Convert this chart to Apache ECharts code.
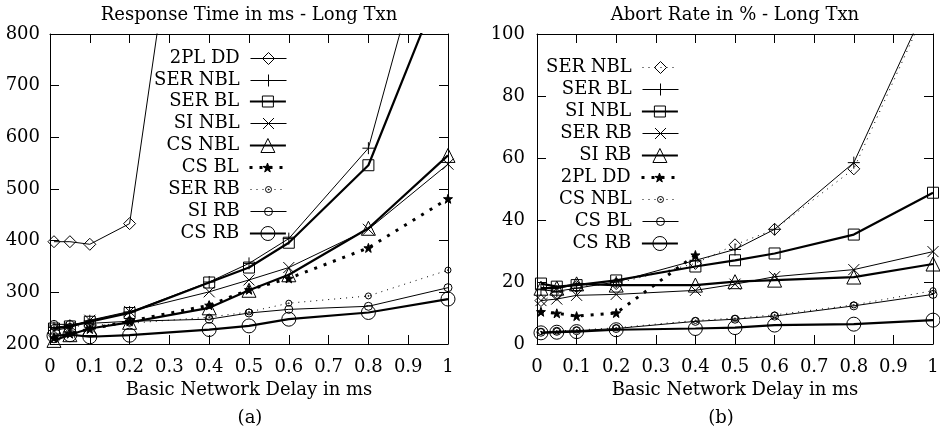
<!DOCTYPE html>
<html><head><meta charset="utf-8">
<script src="https://cdn.jsdelivr.net/npm/echarts@6/dist/echarts.min.js"></script>
<style>html,body{margin:0;padding:0;background:#fff}#c{width:940px;height:436px}</style>
</head><body><div id="c"></div>
<script>
// ---------- data ----------
const delays = [0.01, 0.05, 0.1, 0.2, 0.4, 0.5, 0.6, 0.8, 1];

// (a) Response time in ms
const rt2plDD  = [398, 398, 393, 433, 1500];
const rtSerNBL = [232, 236, 245, 262, 320, 356, 404, 579, 1140];
const rtSerBL  = [230, 234, 243, 260, 319, 348, 396, 546, 930];
const rtSiNBL  = [226, 232, 246, 263, 301, 324, 348, 422, 548];
const rtCsNBL  = [207, 218, 230, 242, 270, 304, 334, 424, 565];
const rtCsBL   = [212, 220, 229, 244, 275, 305, 327, 386, 481];
const rtSerRB  = [232, 234, 236, 240, 252, 262, 279, 293, 343];
const rtSiRB   = [238, 238, 240, 244, 248, 260, 267, 273, 309];
const rtCsRB   = [216, 218, 214, 217, 228, 235, 248, 261, 287];

// (b) Abort rate in %
const arSerNBL = [14, 16, 18.5, 19.5, 26, 32, 37, 56.5, 113];
const arSerBL  = [17.5, 17, 18, 20, 27, 30.5, 37, 58.5, 114];
const arSiNBL  = [19.5, 18.5, 19, 20.5, 25, 27, 29.2, 35.3, 48.8];
const arSerRB  = [14, 14.5, 15.7, 16, 17.3, 19.3, 21.7, 24, 29.8];
const arSiRB   = [18, 18, 19.4, 19, 19, 20.1, 20.6, 21.6, 25.8];
const ar2plDD  = [10.4, 9.9, 9, 10, 28.7];
const arCsNBL  = [4, 4.2, 4.5, 5.2, 7.6, 8.3, 9.4, 12.6, 17.2];
const arCsBL   = [3.8, 4.1, 4.3, 5, 7.3, 8, 9, 12.3, 16];
const arCsRB   = [3.6, 3.8, 4, 4.6, 5, 5.3, 6.1, 6.4, 7.7];

const titleA = 'Response Time in ms - Long Txn';
const titleB = 'Abort Rate in % - Long Txn';
const xName = 'Basic Network Delay in ms';

// ---------- styles ----------
const FONT = 'DejaVu Serif';
const FS = 18;
const SYM = {
  diamond: 'diamond',
  plus: 'path://M0,5H10M5,0V10',
  square: 'rect',
  cross: 'path://M0,0L10,10M10,0L0,10',
  triangle: 'triangle',
  star: 'path://M5,0L6.18,3.38L9.76,3.45L6.9,5.62L7.94,9.05L5,7L2.06,9.05L3.1,5.62L0.24,3.45L3.82,3.38Z',
  dotcircle: 'path://M0,5A5,5,0,1,1,10,5A5,5,0,1,1,0,5ZM4.2,5A0.8,0.8,0,1,1,5.8,5A0.8,0.8,0,1,1,4.2,5Z',
  circle: 'circle'
};
const STY = {
  thin:      {width: 1, type: 'solid'},
  thick:     {width: 2.2, type: 'solid'},
  thinDot:   {width: 1, type: [1, 5]},
  thickDot:  {width: 3, type: [3, 7]}
};
// marker sizes
const SZ = {diamond: 12, plus: 12, square: 11, cross: 11, triangle: 14, star: 9, dotcircle: 6, circle: 8, bigcircle: 14};

function pairs(vals) { return vals.map((v, i) => [delays[i], v]); }

function mkSeries(prefix, name, vals, sym, szKey, sty, grid) {
  const filled = sym === 'star';
  return {
    type: 'line', name: prefix + name, xAxisIndex: grid * 2, yAxisIndex: grid * 2,
    data: pairs(vals), symbol: SYM[sym === 'bigcircle' ? 'circle' : sym], symbolSize: SZ[szKey],
    showSymbol: true, showAllSymbol: true, clip: true, silent: true, animation: false,
    itemStyle: {color: filled ? '#000' : 'rgba(0,0,0,0)', borderColor: '#000', borderWidth: 1},
    lineStyle: {color: '#000', width: sty.width, type: sty.type},
    emphasis: {disabled: true}
  };
}

const leftDefs = [
  ['2PL DD', rt2plDD, 'diamond', 'diamond', STY.thin],
  ['SER NBL', rtSerNBL, 'plus', 'plus', STY.thin],
  ['SER BL', rtSerBL, 'square', 'square', STY.thick],
  ['SI NBL', rtSiNBL, 'cross', 'cross', STY.thin],
  ['CS NBL', rtCsNBL, 'triangle', 'triangle', STY.thick],
  ['CS BL', rtCsBL, 'star', 'star', STY.thickDot],
  ['SER RB', rtSerRB, 'dotcircle', 'dotcircle', STY.thinDot],
  ['SI RB', rtSiRB, 'circle', 'circle', STY.thin],
  ['CS RB', rtCsRB, 'bigcircle', 'bigcircle', STY.thick]
];
const rightDefs = [
  ['SER NBL', arSerNBL, 'diamond', 'diamond', STY.thinDot],
  ['SER BL', arSerBL, 'plus', 'plus', STY.thin],
  ['SI NBL', arSiNBL, 'square', 'square', STY.thick],
  ['SER RB', arSerRB, 'cross', 'cross', STY.thin],
  ['SI RB', arSiRB, 'triangle', 'triangle', STY.thick],
  ['2PL DD', ar2plDD, 'star', 'star', STY.thickDot],
  ['CS NBL', arCsNBL, 'dotcircle', 'dotcircle', STY.thinDot],
  ['CS BL', arCsBL, 'circle', 'circle', STY.thin],
  ['CS RB', arCsRB, 'bigcircle', 'bigcircle', STY.thick]
];

const series = [];
const legends = [];
const leftCY = [58, 80, 101, 123, 145, 167, 189, 211, 233];
const rightCY = [67, 89, 111, 133, 155, 177, 199, 221, 243];

function addAll(defs, prefix, grid, cys, rightPos, itemW) {
  defs.forEach((d, i) => {
    series.push(mkSeries(prefix, d[0], d[1], d[2], d[3], d[4], grid));
    const sz = SZ[d[3]];
    const filled = d[2] === 'star';
    legends.push({
      show: true, orient: 'vertical', align: 'right', selectedMode: false,
      right: rightPos, top: cys[i] - FS / 2 + 0.5, padding: 0,
      itemWidth: itemW, itemHeight: Math.max(sz / 0.8, 6),
      textStyle: {fontFamily: FONT, fontSize: FS, color: '#000'},
      formatter: n => n.slice(2) + ' ',
      data: [{
        name: prefix + d[0],
        itemStyle: {color: filled ? '#000' : 'rgba(0,0,0,0)', borderColor: '#000', borderWidth: 1},
        lineStyle: {color: '#000', width: d[4].width, type: d[4].type}
      }]
    });
  });
}
addAll(leftDefs, 'L:', 0, leftCY, 653, 36);
addAll(rightDefs, 'R:', 1, rightCY, 261, 36);

const lbl = {fontFamily: FONT, fontSize: FS, color: '#000'};
const line = {show: true, onZero: false, lineStyle: {color: '#000', width: 1}};
const tick = {show: true, inside: true, length: 9, lineStyle: {color: '#000', width: 1}};

function xAxes(grid) {
  return [
    {type: 'value', gridIndex: grid, min: 0, max: 1, interval: 0.1, position: 'bottom',
     axisLine: line, axisTick: tick, splitLine: {show: false},
     axisLabel: {...lbl, margin: 14, showMinLabel: true, showMaxLabel: true, hideOverlap: false},
     name: xName, nameLocation: 'middle', nameGap: 33, nameTextStyle: lbl},
    {type: 'value', gridIndex: grid, min: 0, max: 1, interval: 0.1, position: 'top',
     axisLine: line, axisTick: tick, splitLine: {show: false}, axisLabel: {show: false}}
  ];
}
function yAxes(grid, min, max, interval, margin) {
  return [
    {type: 'value', gridIndex: grid, min, max, interval, position: 'left',
     axisLine: line, axisTick: tick, splitLine: {show: false},
     axisLabel: {...lbl, margin, showMinLabel: true, showMaxLabel: true}},
    {type: 'value', gridIndex: grid, min, max, interval, position: 'right',
     axisLine: line, axisTick: tick, splitLine: {show: false}, axisLabel: {show: false}}
  ];
}

const option = {
  animation: false,
  backgroundColor: '#fff',
  grid: [
    {left: 50, top: 34, width: 398, height: 310, outerBoundsMode: 'none', containLabel: false},
    {left: 537, top: 34, width: 396, height: 310, outerBoundsMode: 'none', containLabel: false}
  ],
  xAxis: [...xAxes(0), ...xAxes(1)],
  yAxis: [...yAxes(0, 200, 800, 100, 10), ...yAxes(1, 0, 100, 20, 12)],
  legend: legends,
  graphic: [
    {type: 'text', x: 249, y: 15, silent: true, style: {text: titleA, font: `${FS}px "${FONT}"`, fill: '#000', align: 'center', verticalAlign: 'middle'}},
    {type: 'text', x: 735, y: 15, silent: true, style: {text: titleB, font: `${FS}px "${FONT}"`, fill: '#000', align: 'center', verticalAlign: 'middle'}},
    {type: 'text', x: 250, y: 418, silent: true, style: {text: '(a)', font: `${FS}px "${FONT}"`, fill: '#000', align: 'center', verticalAlign: 'middle'}},
    {type: 'text', x: 721, y: 418, silent: true, style: {text: '(b)', font: `${FS}px "${FONT}"`, fill: '#000', align: 'center', verticalAlign: 'middle'}}
  ],
  series
};
const chart = echarts.init(document.getElementById('c'), null, {renderer: 'canvas'});
chart.setOption(option);
</script>
</body></html>
